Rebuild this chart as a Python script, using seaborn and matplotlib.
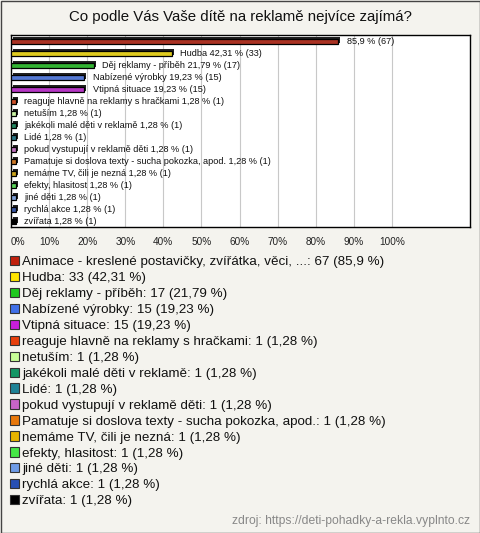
import matplotlib
matplotlib.use("Agg")
import matplotlib.pyplot as plt
import matplotlib.patheffects as pe
from matplotlib.patches import Patch, Rectangle
import seaborn as sns
import pandas as pd

title = "Co podle Vás Vaše dítě na reklamě nejvíce zajímá?"
answers = [
    "Animace - kreslené postavičky, zvířátka, věci, ...",
    "Hudba",
    "Děj reklamy - příběh",
    "Nabízené výrobky",
    "Vtipná situace",
    "reaguje hlavně na reklamy s hračkami",
    "netuším",
    "jakékoli malé děti v reklamě",
    "Lidé",
    "pokud vystupují v reklamě děti",
    "Pamatuje si doslova texty - sucha pokozka, apod.",
    "nemáme TV, čili je nezná",
    "efekty, hlasitost",
    "jiné děti",
    "rychlá akce",
    "zvířata",
]
counts = [67, 33, 17, 15, 15, 1, 1, 1, 1, 1, 1, 1, 1, 1, 1, 1]
percents = [85.9, 42.31, 21.79, 19.23, 19.23, 1.28, 1.28, 1.28, 1.28, 1.28,
            1.28, 1.28, 1.28, 1.28, 1.28, 1.28]
colors = ["#C0200C", "#FFE400", "#1EC81E", "#4070E8", "#C81EDC", "#E8400C",
          "#C8FF96", "#149664", "#1E8296", "#C864C8", "#E8780A", "#E8B400",
          "#46E646", "#6E9BE6", "#2850B4", "#000000"]
source = "zdroj: https://deti-pohadky-a-rekla.vyplnto.cz"

bg = "#F4F3EE"
sns.set_theme(style="white")
plt.rcParams["font.family"] = ["Liberation Sans", "DejaVu Sans"]

df = pd.DataFrame({"answer": answers, "pct": percents, "count": counts})

fig = plt.figure(figsize=(4.8, 5.33), dpi=100, facecolor=bg)
ax = fig.add_axes([11 / 480, 1 - 227 / 533, 459 / 480, 192 / 533])
ax.set_facecolor("white")

sns.barplot(data=df, x="pct", y="answer", hue="answer", palette=colors,
            legend=False, orient="h", width=0.48, edgecolor="black",
            linewidth=0.9, ax=ax, zorder=3)
for bar in ax.patches:
    bar.set_path_effects([
        pe.SimplePatchShadow(offset=(1.3, 1.3), shadow_rgbFace="#202020", alpha=1),
        pe.Normal(),
    ])

ax.set_xlim(0, 120.5)
ax.set_ylim(len(answers) - 0.55, -0.55)
ax.set_xticks(range(0, 101, 10))
ax.set_xticklabels([f"{t}%" for t in range(0, 101, 10)], fontsize=7.2, color="#222222")
ax.get_xticklabels()[0].set_ha("left")
ax.tick_params(axis="x", length=0, pad=7)
ax.set_yticks([])
ax.set_xlabel("")
ax.set_ylabel("")
ax.grid(axis="x", color="#C8C8C8", linewidth=0.8, zorder=0)
for s in ax.spines.values():
    s.set_color("black")
    s.set_linewidth(1)

for i, (a, p, c) in enumerate(zip(answers, percents, counts)):
    pstr = f"{p:g}".replace(".", ",")
    lab = f"{pstr} % ({c})" if i == 0 else f"{a} {pstr} % ({c})"
    ax.annotate(lab, (p, i), xytext=(6, 0), textcoords="offset points",
                va="center", ha="left", fontsize=6.6, color="#111111")

fig.text(0.5, 1 - 17 / 533, title, ha="center", va="center", fontsize=10.8,
         color="#111111")

handles = [Patch(facecolor=c, edgecolor="#333333", linewidth=0.8) for c in colors]
labels = [f"{a}: {c} ({f'{p:g}'.replace('.', ',')} %)"
          for a, p, c in zip(answers, percents, counts)]
fig.legend(handles, labels, loc="upper left", bbox_to_anchor=(10 / 480, 1 - 256 / 533),
           frameon=False, fontsize=9.6, handlelength=0.7, handleheight=0.7,
           handletextpad=0.2, labelspacing=0.27, borderpad=0, borderaxespad=0,
           labelcolor="#111111")

fig.text(470 / 480, 1 - 521 / 533, source, ha="right", va="center", fontsize=8.7,
         color="#888888")

fig.patches.append(Rectangle((0.5 / 480, 0.5 / 533), 479 / 480, 532 / 533,
                             transform=fig.transFigure, fill=False,
                             edgecolor="#444444", linewidth=1))

fig.savefig("out.png", dpi=100, facecolor=bg)
